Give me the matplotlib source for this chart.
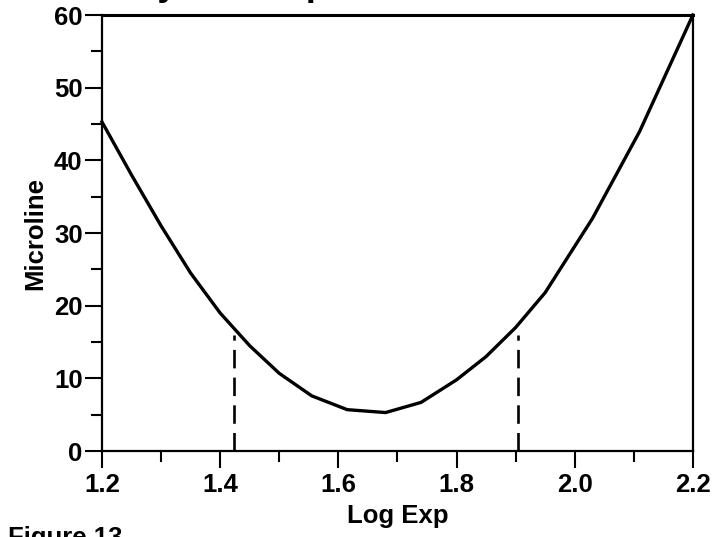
import matplotlib
matplotlib.use('Agg')
import matplotlib.pyplot as plt
from matplotlib.ticker import MultipleLocator

plt.rcParams['font.family'] = ['Liberation Sans', 'DejaVu Sans']

# curve
log_exp = [1.20, 1.25, 1.30, 1.35, 1.40, 1.45, 1.50, 1.555, 1.615, 1.68,
           1.74, 1.80, 1.85, 1.90, 1.95, 2.03, 2.11, 2.20]
microline = [45.3, 38.0, 31.0, 24.5, 19.0, 14.5, 10.7, 7.6, 5.7, 5.3,
             6.7, 9.8, 13.0, 17.0, 21.8, 32.0, 44.0, 60.0]

# dashed markers
marker_x = [1.423, 1.904]
marker_top = [16.0, 16.0]

x_ticks = [1.2, 1.4, 1.6, 1.8, 2.0, 2.2]
x_ticklabels = ['1.2', '1.4', '1.6', '1.8', '2.0', '2.2']
y_ticks = [0, 10, 20, 30, 40, 50, 60]

fig = plt.figure(figsize=(7.18, 5.37), dpi=100)
ax = fig.add_axes([0.142, 0.160, 0.823, 0.812])

ax.plot(log_exp, microline, color='black', lw=2.4, clip_on=False,
        solid_joinstyle='miter')
for mx, mt in zip(marker_x, marker_top):
    ax.plot([mx, mx], [0, mt], color='black', lw=1.9,
            dashes=(7, 3.5))

ax.set_xlim(1.2, 2.2)
ax.set_ylim(0, 60)
ax.set_xticks(x_ticks)
ax.set_xticklabels(x_ticklabels)
ax.set_yticks(y_ticks)
ax.xaxis.set_minor_locator(MultipleLocator(0.1))
ax.yaxis.set_minor_locator(MultipleLocator(5))

ax.tick_params(which='major', length=12, width=1.5, direction='out',
               labelsize=18.5, colors='black')
ax.tick_params(which='minor', length=8, width=1.5, direction='out')
ax.tick_params(axis='x', which='major', pad=4)
ax.tick_params(axis='y', which='major', pad=2)
for lab in ax.get_xticklabels() + ax.get_yticklabels():
    lab.set_fontweight('bold')

for s in ax.spines.values():
    s.set_linewidth(1.6)
ax.spines['top'].set_linewidth(2.2)

ax.set_xlabel('Log Exp', fontsize=18.5, fontweight='bold', labelpad=5)
ax.set_ylabel('Microline', fontsize=18.5, fontweight='bold', labelpad=5)

# cropped title and caption from the scanned page
fig.text(0.065, 1.0 + 5.0 / 537, 'Density and Exposure', fontsize=26,
         fontweight='bold', va='baseline', ha='left')
fig.text(0.011, 1.0 - 526.0 / 537, 'Figure 13', fontsize=18.5,
         fontweight='bold', va='top', ha='left')

fig.savefig('out.png', dpi=100)
